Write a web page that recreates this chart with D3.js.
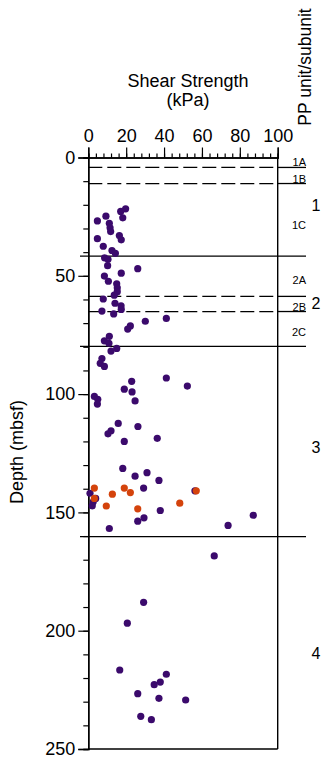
<!DOCTYPE html>
<html>
<head>
<meta charset="utf-8">
<script src="https://cdn.jsdelivr.net/npm/d3@7"></script>
<style>
  html, body { margin: 0; padding: 0; background: #fff; }
  svg { display: block; font-family: "Liberation Sans", Arial, Helvetica, sans-serif; }
</style>
</head>
<body>
<svg id="chart" width="335" height="761"></svg>
<script>
// Shear strength measurements: depth (mbsf) and strength (kPa)
const purpleDepth = [21.7, 22.8, 25.5, 24.8, 26.8, 27.8, 29.7, 31.3, 33.0, 34.8, 34.3, 37.5, 39.3, 40.5,
  42.4, 43.0, 45.7, 47.0, 48.9, 50.1, 52.3, 53.4, 55.1, 56.7, 58.2, 59.8, 61.6, 62.7, 64.2, 64.9, 66.1,
  68.0, 69.2, 71.2, 72.5, 75.6, 77.5, 78.5, 80.7, 81.8, 85.0, 87.0, 88.3, 93.2, 94.6, 96.6, 97.9, 99.1,
  101.0, 102.2, 104.2, 102.9, 112.4, 113.7, 115.5, 116.8, 118.7, 120.0, 131.4, 133.2, 134.7, 136.5,
  139.7, 140.9, 141.9, 144.1, 145.5, 147.2, 149.2, 151.2, 152.3, 153.7, 155.5, 156.8, 168.4, 188.0,
  196.8, 216.6, 218.4, 221.7, 222.8, 226.6, 228.6, 229.3, 236.2, 237.6];
const purpleStrength = [19.7, 17.1, 18.2, 9.3, 4.8, 11.1, 11.5, 11.8, 16.4, 17.4, 4.8, 7.9, 12.5, 14.3,
  8.6, 10.4, 10.2, 26.1, 17.4, 8.5, 10.6, 15.0, 15.3, 15.3, 13.7, 7.9, 14.1, 17.3, 17.4, 7.2, 13.4,
  41.2, 30.1, 22.2, 20.8, 11.1, 8.5, 10.9, 15.0, 12.0, 7.2, 6.3, 8.5, 41.2, 22.9, 52.3, 19.0, 23.1,
  3.2, 5.0, 4.8, 24.7, 15.8, 26.2, 12.0, 10.4, 36.4, 19.0, 18.2, 31.0, 24.7, 37.3,
  29.2, 56.3, 0.9, 3.9, 2.6, 2.1, 38.0, 87.1, 29.4, 26.1, 73.8, 11.1, 66.5, 29.2,
  20.6, 16.6, 41.2, 38.0, 34.8, 26.1, 37.3, 51.4, 27.7, 33.3];
const orangeDepth = [139.7, 139.7, 142.3, 141.6, 140.9, 144.1, 147.3, 146.1, 148.5];
const orangeStrength = [3.2, 19.0, 12.7, 22.2, 57.0, 3.2, 9.5, 48.3, 26.1];

// Unit / subunit boundaries (mbsf)
const unitBoundaries = [41.7, 79.8, 160.2];
const subunitBoundaries = [4.2, 11.0, 58.7, 65.1];
const subunitLabels = ["1A", "1B", "1C", "2A", "2B", "2C"];
const subunitLabelDepths = [1.8, 9.3, 28.6, 51.7, 63.0, 73.6];
const unitLabels = ["1", "2", "3", "4"];
const unitLabelDepths = [20.3, 61.5, 122.6, 209.7];

const xTicks = [0, 20, 40, 60, 80, 100];
const yTicks = [0, 50, 100, 150, 200, 250];

const svg = d3.select("#chart");
const x = d3.scaleLinear().domain([0, 100]).range([88.3, 277.7]);
const y = d3.scaleLinear().domain([0, 250]).range([157.5, 749]);
const ink = "#000";
const purple = "#3b0a6c";
const orange = "#d4430c";

// Top axis: minor ticks every 4 kPa, labelled ticks every 20 kPa
const topMinor = svg.append("g").attr("transform", `translate(0,${y(0)})`)
  .call(d3.axisTop(x).tickValues(d3.range(0, 101, 4)).tickSize(4).tickFormat(""));
const topMajor = svg.append("g").attr("transform", `translate(0,${y(0)})`)
  .call(d3.axisTop(x).tickValues(xTicks).tickSize(10).tickPadding(5));
topMajor.selectAll("text").attr("font-size", 18).attr("fill", ink).attr("y", -15.5).attr("dy", 0);

// Left axis: minor ticks every 10 m, labelled ticks every 50 m
const leftMinor = svg.append("g").attr("transform", `translate(${x(0)},0)`)
  .call(d3.axisLeft(y).tickValues(d3.range(0, 251, 10)).tickSize(5).tickFormat(""));
const leftMajor = svg.append("g").attr("transform", `translate(${x(0)},0)`)
  .call(d3.axisLeft(y).tickValues(yTicks).tickSize(10).tickPadding(3));
leftMajor.selectAll("text").attr("font-size", 18).attr("fill", ink);

[topMinor, topMajor, leftMinor, leftMajor].forEach(g => {
  g.selectAll("path.domain").attr("stroke", ink).attr("stroke-width", 1.4);
  g.selectAll("line").attr("stroke", ink).attr("stroke-width", 1.2);
});

// Frame right and bottom
svg.append("line").attr("x1", x(100)).attr("x2", x(100)).attr("y1", y(0)).attr("y2", y(250))
  .attr("stroke", ink).attr("stroke-width", 1.4);
svg.append("line").attr("x1", x(0)).attr("x2", x(100)).attr("y1", y(250)).attr("y2", y(250))
  .attr("stroke", ink).attr("stroke-width", 1.4);

// Unit boundaries (solid) and subunit boundaries (dashed inside the plot)
const labelEdge = 306;
unitBoundaries.forEach(d => {
  svg.append("line").attr("x1", 80).attr("x2", labelEdge).attr("y1", y(d)).attr("y2", y(d))
    .attr("stroke", ink).attr("stroke-width", 1.3);
});
subunitBoundaries.forEach(d => {
  svg.append("line").attr("x1", x(0)).attr("x2", x(100)).attr("y1", y(d)).attr("y2", y(d))
    .attr("stroke", ink).attr("stroke-width", 1.3).attr("stroke-dasharray", "14,5");
  svg.append("line").attr("x1", x(100)).attr("x2", labelEdge).attr("y1", y(d)).attr("y2", y(d))
    .attr("stroke", ink).attr("stroke-width", 1.3);
});

// Data points
svg.append("g").selectAll("circle").data(d3.range(purpleDepth.length)).join("circle")
  .attr("cx", i => x(purpleStrength[i])).attr("cy", i => y(purpleDepth[i]))
  .attr("r", 3.6).attr("fill", purple);
svg.append("g").selectAll("circle").data(d3.range(orangeDepth.length)).join("circle")
  .attr("cx", i => x(orangeStrength[i])).attr("cy", i => y(orangeDepth[i]))
  .attr("r", 3.6).attr("fill", orange);

// Subunit and unit labels
subunitLabels.forEach((t, i) => {
  svg.append("text").attr("x", labelEdge).attr("y", y(subunitLabelDepths[i]))
    .attr("dy", "0.36em").attr("text-anchor", "end").attr("font-size", 11).attr("fill", ink).text(t);
});
unitLabels.forEach((t, i) => {
  svg.append("text").attr("x", 316).attr("y", y(unitLabelDepths[i]))
    .attr("dy", "0.36em").attr("text-anchor", "middle").attr("font-size", 16).attr("fill", ink).text(t);
});

// Titles
svg.append("text").attr("x", 188).attr("y", 87).attr("text-anchor", "middle")
  .attr("font-size", 18).attr("fill", ink).text("Shear  Strength");
svg.append("text").attr("x", 188).attr("y", 106).attr("text-anchor", "middle")
  .attr("font-size", 18).attr("fill", ink).text("(kPa)");
svg.append("text").attr("transform", "translate(23,452) rotate(-90)").attr("text-anchor", "middle")
  .attr("font-size", 18).attr("fill", ink).text("Depth (mbsf)");
svg.append("text").attr("transform", "translate(311,67) rotate(-90)").attr("text-anchor", "middle")
  .attr("font-size", 17.5).attr("fill", ink).text("PP unit/subunit");
</script>
</body>
</html>
